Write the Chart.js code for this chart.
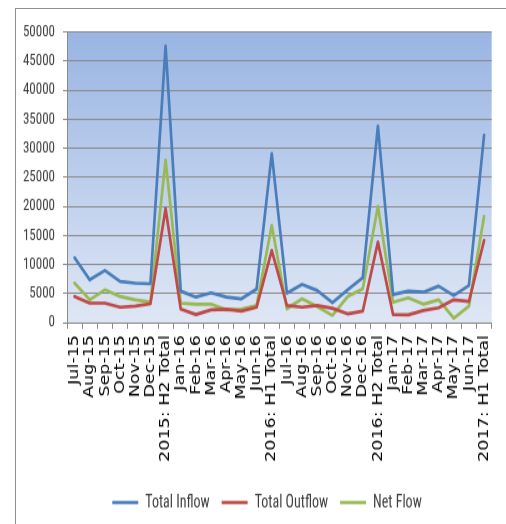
<!DOCTYPE html>
<html>
  <head>
    <title>Monthly Flows</title>
    <style>
      body { margin: 0; background: #fff; }
      #wrap { position: relative; width: 506px; height: 524px; overflow: hidden; }
      /* thin frame around the chart block */
      #frame { position: absolute; left: 15px; top: 8px; right: -5px; bottom: -5px;
               border-left: 1.5px solid #8f8f8f; border-top: 1.5px solid #8f8f8f; }
      /* chart is drawn shorter and stretched to full height */
      #flowChart { position: absolute; left: 0; top: 0; transform: scaleY(1.25); transform-origin: 0 0; }
    </style>
  </head>
  <body>
    <script src="https://cdn.jsdelivr.net/npm/chart.js"></script>

    <div id="wrap">
      <div id="frame"></div>
      <canvas id="flowChart" width="506" height="419"></canvas>
    </div>

    <script>
      // periods on the x axis
      const periods = [
        'Jul-15', 'Aug-15', 'Sep-15', 'Oct-15', 'Nov-15', 'Dec-15', '2015: H2 Total',
        'Jan-16', 'Feb-16', 'Mar-16', 'Apr-16', 'May-16', 'Jun-16', '2016: H1 Total',
        'Jul-16', 'Aug-16', 'Sep-16', 'Oct-16', 'Nov-16', 'Dec-16', '2016: H2 Total',
        'Jan-17', 'Feb-17', 'Mar-17', 'Apr-17', 'May-17', 'Jun-17', '2017: H1 Total'
      ];

      const totalInflow = [
        11150, 7360, 8960, 7070, 6780, 6670, 47580,
        5400, 4370, 5110, 4370, 4080, 5750, 29080,
        5060, 6550, 5520, 3420, 5630, 7700, 33790,
        4830, 5400, 5230, 6260, 4660, 6380, 32240
      ];

      const totalOutflow = [
        4480, 3330, 3330, 2640, 2820, 3220, 19600,
        2300, 1380, 2180, 2300, 1950, 2640, 12410,
        2930, 2640, 2930, 2450, 1490, 1950, 13850,
        1380, 1330, 2070, 2530, 3910, 3620, 14140
      ];

      const netFlow = [
        6780, 3910, 5630, 4480, 3910, 3510, 27930,
        3330, 3160, 3160, 2180, 2300, 2930, 16720,
        2360, 4080, 2760, 1210, 4480, 5800, 20000,
        3500, 4250, 3160, 3910, 740, 2820, 18270
      ];

      const yTicks = [0, 5000, 10000, 15000, 20000, 25000, 30000, 35000, 40000, 45000, 50000];

      const axisGray = '#8a8a8a';
      const narrowFont = "'Roboto Condensed', 'Liberation Sans Narrow', 'DejaVu Sans Condensed', sans-serif";

      // gradient fill behind the plot
      const plotBackground = {
        id: 'plotBackground',
        beforeDraw(chart) {
          const { ctx, chartArea: a } = chart;
          const g = ctx.createLinearGradient(0, a.top, 0, a.bottom);
          g.addColorStop(0, '#99b5e3');
          g.addColorStop(1, '#dfe7f5');
          ctx.save();
          ctx.fillStyle = g;
          ctx.fillRect(a.left, a.top, a.right - a.left, a.bottom - a.top);
          ctx.restore();
        }
      };

      // legend sits a little right of the canvas centre
      const legendShift = {
        id: 'legendShift',
        afterLayout(chart) {
          chart.legend.left += 17;
          chart.legend.right += 17;
        }
      };

      function series(label, data, color) {
        return {
          label: label,
          data: data,
          borderColor: color,
          backgroundColor: color,
          borderWidth: 2.7,
          pointRadius: 0,
          tension: 0,
          borderJoinStyle: 'round',
          borderCapStyle: 'round'
        };
      }

      const ctx = document.getElementById('flowChart').getContext('2d');

      const chart = new Chart(ctx, {
        type: 'line',
        data: {
          labels: periods,
          datasets: [
            series('Total Inflow', totalInflow, '#4a7ebb'),
            series('Total Outflow', totalOutflow, '#be4b48'),
            series('Net Flow', netFlow, '#98b954')
          ]
        },
        plugins: [plotBackground, legendShift],
        options: {
          responsive: false,
          animation: false,
          devicePixelRatio: 1,
          layout: { padding: { top: 25.6, right: 6, left: 0, bottom: 0 } },
          plugins: {
            tooltip: { enabled: false },
            legend: {
              position: 'bottom',
              labels: {
                usePointStyle: true,
                pointStyle: 'line',
                pointStyleWidth: 26,
                padding: 12,
                color: '#404040',
                font: { family: narrowFont, size: 14 }
              }
            }
          },
          scales: {
            x: {
              offset: true,
              afterFit: (s) => { s.height = 125; },
              grid: {
                offset: true,
                drawOnChartArea: false,
                tickLength: 5,
                color: axisGray
              },
              border: { color: axisGray, width: 1 },
              ticks: {
                autoSkip: false,
                minRotation: 90,
                maxRotation: 90,
                padding: 5,
                color: '#000',
                font: { family: "'DejaVu Sans', Verdana, sans-serif", size: 14 }
              }
            },
            y: {
              min: 0,
              max: 50000,
              afterFit: (s) => { s.width = 67; },
              afterBuildTicks: (s) => { s.ticks = yTicks.map(v => ({ value: v })); },
              grid: { color: axisGray, lineWidth: 1, tickLength: 4 },
              border: { color: axisGray, width: 1 },
              ticks: {
                padding: 8,
                color: '#404040',
                font: { family: narrowFont, size: 13 },
                callback: (v) => String(v)
              }
            }
          }
        }
      });
    </script>
  </body>
</html>
